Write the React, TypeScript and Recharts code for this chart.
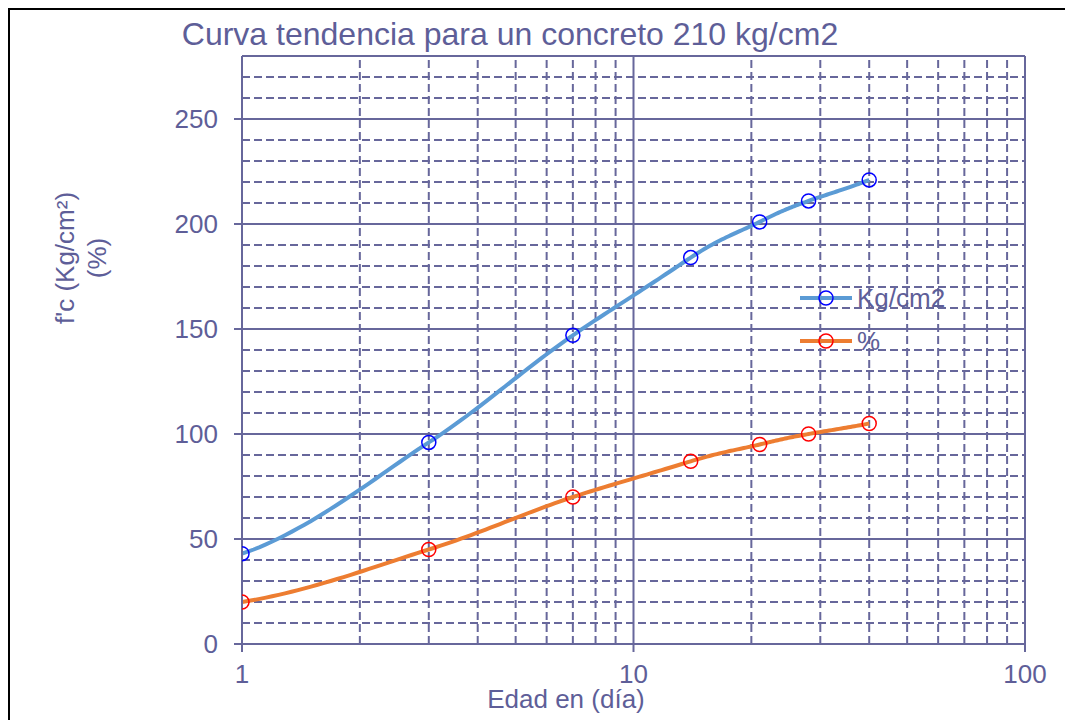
import { LineChart, Line, XAxis, YAxis, CartesianGrid, ReferenceLine } from 'recharts'

const dias = [1, 3, 7, 14, 21, 28, 40]
const kgcm2 = [43, 96, 147, 184, 201, 211, 221]
const porcentaje = [20, 45, 70, 87, 95, 100, 105]

const xTicks = [1, 10, 100]
const yTicks = [0, 50, 100, 150, 200, 250]
const xMinor = [2, 3, 4, 5, 6, 7, 8, 9, 20, 30, 40, 50, 60, 70, 80, 90]
const yMinor = [10, 20, 30, 40, 60, 70, 80, 90, 110, 120, 130, 140, 160, 170, 180, 190, 210, 220, 230, 240, 260, 270, 280]

const TEXT = '#5e5e98'
const GRID = '#67679b'
const FONT = '"Liberation Sans", Arial, sans-serif'

const W = 1063
const H = 710
const MARGIN = { top: 46, right: 48, bottom: 16, left: 150 }
const Y_AXIS_W = 82
const PLOT_X = MARGIN.left + Y_AXIS_W
const DECADE = (W - PLOT_X - MARGIN.right) / 2   // x axis spans 1..100 = 2 decades

const data = dias.map((d, i) => ({ dia: d, kg: kgcm2[i], pct: porcentaje[i] }))

const series = [
  { key: 'kg', name: 'Kg/cm2', color: '#5b9bd5', marker: '#0000ff' },
  { key: 'pct', name: '%', color: '#ed7d31', marker: '#ff0000' },
]

// Excel-like smoothing: catmull-rom done in linear day space, drawn on the log axis
function smoothLog(context: any) {
  const toDay = (px: number) => Math.pow(10, (px - PLOT_X) / DECADE)
  const toPx = (d: number) => PLOT_X + DECADE * Math.log10(d)
  let pts: number[][] = []
  return {
    areaStart() {},
    areaEnd() {},
    lineStart() { pts = [] },
    point(x: number, y: number) { pts.push([x, y]) },
    lineEnd() {
      const n = pts.length
      if (!n) return
      const d = pts.map(([x, y]) => [toDay(x), y])
      context.moveTo(pts[0][0], pts[0][1])
      for (let i = 0; i < n - 1; i++) {
        const p0 = d[Math.max(0, i - 1)], p1 = d[i], p2 = d[i + 1], p3 = d[Math.min(n - 1, i + 2)]
        const c1 = [p1[0] + (p2[0] - p0[0]) / 6, p1[1] + (p2[1] - p0[1]) / 6]
        const c2 = [p2[0] - (p3[0] - p1[0]) / 6, p2[1] - (p3[1] - p1[1]) / 6]
        for (let k = 1; k <= 30; k++) {
          const t = k / 30, u = 1 - t
          const a = u * u * u, b = 3 * u * u * t, c = 3 * u * t * t, e = t * t * t
          const x = a * p1[0] + b * c1[0] + c * c2[0] + e * p2[0]
          const y = a * p1[1] + b * c1[1] + c * c2[1] + e * p2[1]
          context.lineTo(toPx(x), y)
        }
      }
    },
  }
}

function LegendBox() {
  return (
    <div style={{ position: 'absolute', left: 790, top: 266, fontFamily: FONT, fontSize: 26, color: TEXT }}>
      {series.map(s => (
        <div key={s.key} style={{ display: 'flex', alignItems: 'center', height: 43 }}>
          <svg width={57} height={20}>
            <line x1={0} y1={10} x2={52} y2={10} stroke={s.color} strokeWidth={4} />
            <circle cx={26} cy={10} r={7} stroke={s.marker} strokeWidth={1.5} fill="none" />
          </svg>
          <span style={{ lineHeight: 1 }}>{s.name}</span>
        </div>
      ))}
    </div>
  )
}

function YLabel() {
  return (
    <g fill={TEXT} fontFamily={FONT} fontSize={26}>
      <text x={64} y={248} textAnchor="middle" transform="rotate(-90, 64, 248)">f'c (Kg/cm²)</text>
      <text x={96} y={248} textAnchor="middle" transform="rotate(-90, 96, 248)">(%)</text>
    </g>
  )
}

function XLabel() {
  return (
    <text x={556} y={698} textAnchor="middle" fill={TEXT} fontFamily={FONT} fontSize={26}>
      Edad en (día)
    </text>
  )
}

export default function App() {
  return (
    <div style={{ position: 'relative', width: 1065, height: 712, borderTop: '2px solid #000', borderLeft: '2px solid #000', boxSizing: 'border-box', overflow: 'hidden', background: '#fff' }}>
      <div style={{ position: 'absolute', left: 0, top: 7, width: 1000, textAlign: 'center', fontFamily: FONT, fontSize: 32, color: TEXT, lineHeight: '34px' }}>
        Curva tendencia para un concreto 210 kg/cm2
      </div>
      <div style={{ position: 'absolute', left: 0, top: 0 }}>
        <LineChart width={W} height={H} data={data} margin={MARGIN}>
          <CartesianGrid stroke={GRID} strokeWidth={2} />
          {xMinor.map(v => (
            <ReferenceLine key={'x' + v} x={v} stroke={GRID} strokeWidth={2} strokeDasharray="8 4" />
          ))}
          {yMinor.map(v => (
            <ReferenceLine key={'y' + v} y={v} stroke={GRID} strokeWidth={2} strokeDasharray="8 4" />
          ))}
          <XAxis
            dataKey="dia"
            type="number"
            scale="log"
            domain={[1, 100]}
            ticks={xTicks}
            allowDataOverflow
            height={60}
            stroke={GRID}
            strokeWidth={2}
            tickSize={8}
            tickMargin={13}
            tick={{ fill: TEXT, fontSize: 26, fontFamily: FONT }}
            tickLine={{ stroke: GRID, strokeWidth: 2 }}
            label={<XLabel />}
          />
          <YAxis
            type="number"
            domain={[0, 280]}
            ticks={yTicks}
            allowDataOverflow
            width={Y_AXIS_W}
            stroke={GRID}
            strokeWidth={2}
            tickSize={8}
            tickMargin={16}
            tick={{ fill: TEXT, fontSize: 26, fontFamily: FONT }}
            tickLine={{ stroke: GRID, strokeWidth: 2 }}
            label={<YLabel />}
          />
          {series.map(s => (
            <Line
              key={s.key}
              dataKey={s.key}
              name={s.name}
              type={smoothLog as any}
              stroke={s.color}
              strokeWidth={4}
              dot={{ r: 7, stroke: s.marker, strokeWidth: 1.5, fill: 'none' }}
              activeDot={false}
              isAnimationActive={false}
            />
          ))}
        </LineChart>
      </div>
      <LegendBox />
    </div>
  )
}
